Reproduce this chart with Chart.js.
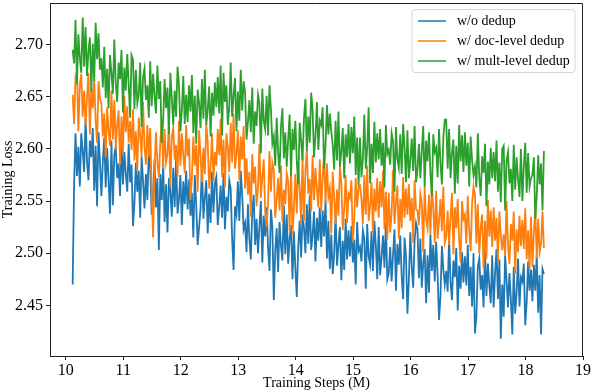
<!DOCTYPE html>
<html>
<head>
<meta charset="utf-8">
<script src="https://cdn.jsdelivr.net/npm/chart.js@4.4.0/dist/chart.umd.min.js"></script>
<style>
  html, body { margin: 0; padding: 0; background: #fff; }
  #wrap { width: 592px; height: 392px; }
</style>
</head>
<body>
<div id="wrap"><canvas id="lossChart" width="592" height="392"></canvas></div>
<script>
// training steps (M)
const steps = [
  10.12, 10.145, 10.17, 10.195, 10.22, 10.245, 10.27, 10.295, 10.32, 10.345, 10.37, 10.395, 10.42, 10.445, 10.47, 10.495, 10.52, 10.545, 10.57, 10.595,
  10.62, 10.645, 10.67, 10.695, 10.72, 10.745, 10.77, 10.795, 10.82, 10.845, 10.87, 10.895, 10.92, 10.945, 10.97, 10.995, 11.02, 11.045, 11.07, 11.095,
  11.12, 11.145, 11.17, 11.195, 11.22, 11.245, 11.27, 11.295, 11.32, 11.345, 11.37, 11.395, 11.42, 11.445, 11.47, 11.495, 11.52, 11.545, 11.57, 11.595,
  11.62, 11.645, 11.67, 11.695, 11.72, 11.745, 11.77, 11.795, 11.82, 11.845, 11.87, 11.895, 11.92, 11.945, 11.97, 11.995, 12.02, 12.045, 12.07, 12.095,
  12.12, 12.145, 12.17, 12.195, 12.22, 12.245, 12.27, 12.295, 12.32, 12.345, 12.37, 12.395, 12.42, 12.445, 12.47, 12.495, 12.52, 12.545, 12.57, 12.595,
  12.62, 12.645, 12.67, 12.695, 12.72, 12.745, 12.77, 12.795, 12.82, 12.845, 12.87, 12.895, 12.92, 12.945, 12.97, 12.995, 13.02, 13.045, 13.07, 13.095,
  13.12, 13.145, 13.17, 13.195, 13.22, 13.245, 13.27, 13.295, 13.32, 13.345, 13.37, 13.395, 13.42, 13.445, 13.47, 13.495, 13.52, 13.545, 13.57, 13.595,
  13.62, 13.645, 13.67, 13.695, 13.72, 13.745, 13.77, 13.795, 13.82, 13.845, 13.87, 13.895, 13.92, 13.945, 13.97, 13.995, 14.02, 14.045, 14.07, 14.095,
  14.12, 14.145, 14.17, 14.195, 14.22, 14.245, 14.27, 14.295, 14.32, 14.345, 14.37, 14.395, 14.42, 14.445, 14.47, 14.495, 14.52, 14.545, 14.57, 14.595,
  14.62, 14.645, 14.67, 14.695, 14.72, 14.745, 14.77, 14.795, 14.82, 14.845, 14.87, 14.895, 14.92, 14.945, 14.97, 14.995, 15.02, 15.045, 15.07, 15.095,
  15.12, 15.145, 15.17, 15.195, 15.22, 15.245, 15.27, 15.295, 15.32, 15.345, 15.37, 15.395, 15.42, 15.445, 15.47, 15.495, 15.52, 15.545, 15.57, 15.595,
  15.62, 15.645, 15.67, 15.695, 15.72, 15.745, 15.77, 15.795, 15.82, 15.845, 15.87, 15.895, 15.92, 15.945, 15.97, 15.995, 16.02, 16.045, 16.07, 16.095,
  16.12, 16.145, 16.17, 16.195, 16.22, 16.245, 16.27, 16.295, 16.32, 16.345, 16.37, 16.395, 16.42, 16.445, 16.47, 16.495, 16.52, 16.545, 16.57, 16.595,
  16.62, 16.645, 16.67, 16.695, 16.72, 16.745, 16.77, 16.795, 16.82, 16.845, 16.87, 16.895, 16.92, 16.945, 16.97, 16.995, 17.02, 17.045, 17.07, 17.095,
  17.12, 17.145, 17.17, 17.195, 17.22, 17.245, 17.27, 17.295, 17.32, 17.345, 17.37, 17.395, 17.42, 17.445, 17.47, 17.495, 17.52, 17.545, 17.57, 17.595,
  17.62, 17.645, 17.67, 17.695, 17.72, 17.745, 17.77, 17.795, 17.82, 17.845, 17.87, 17.895, 17.92, 17.945, 17.97, 17.995, 18.02, 18.045, 18.07, 18.095,
  18.12, 18.145, 18.17, 18.195, 18.22, 18.245, 18.27, 18.295, 18.32
];

// w/o dedup
const noDedup = [
  2.470, 2.565, 2.615, 2.574, 2.602, 2.564, 2.615, 2.598, 2.578, 2.630, 2.588, 2.570, 2.608, 2.592, 2.620, 2.560, 2.603, 2.545, 2.616, 2.587,
  2.555, 2.588, 2.611, 2.563, 2.601, 2.569, 2.538, 2.608, 2.546, 2.594, 2.602, 2.572, 2.586, 2.555, 2.609, 2.566, 2.597, 2.576, 2.559, 2.605,
  2.568, 2.585, 2.526, 2.548, 2.587, 2.559, 2.579, 2.534, 2.593, 2.569, 2.543, 2.576, 2.551, 2.599, 2.582, 2.537, 2.557, 2.590, 2.544, 2.572,
  2.503, 2.576, 2.551, 2.586, 2.530, 2.566, 2.520, 2.572, 2.559, 2.535, 2.582, 2.544, 2.591, 2.538, 2.552, 2.575, 2.527, 2.569, 2.547, 2.579,
  2.542, 2.571, 2.536, 2.558, 2.515, 2.575, 2.547, 2.508, 2.525, 2.543, 2.585, 2.533, 2.553, 2.570, 2.519, 2.557, 2.529, 2.578, 2.539, 2.567,
  2.573, 2.527, 2.544, 2.565, 2.534, 2.577, 2.523, 2.554, 2.540, 2.570, 2.562, 2.514, 2.484, 2.545, 2.537, 2.569, 2.531, 2.579, 2.556, 2.523,
  2.529, 2.501, 2.547, 2.514, 2.494, 2.539, 2.556, 2.508, 2.533, 2.500, 2.526, 2.550, 2.491, 2.536, 2.516, 2.544, 2.505, 2.483, 2.542, 2.525,
  2.455, 2.502, 2.524, 2.482, 2.530, 2.507, 2.493, 2.546, 2.499, 2.537, 2.490, 2.514, 2.527, 2.475, 2.521, 2.485, 2.458, 2.506, 2.531, 2.496,
  2.537, 2.524, 2.500, 2.547, 2.509, 2.556, 2.503, 2.517, 2.540, 2.492, 2.534, 2.512, 2.544, 2.506, 2.541, 2.516, 2.551, 2.495, 2.531, 2.485,
  2.518, 2.480, 2.498, 2.540, 2.488, 2.508, 2.525, 2.474, 2.512, 2.484, 2.533, 2.494, 2.522, 2.497, 2.526, 2.491, 2.513, 2.470, 2.530, 2.502,
  2.506, 2.492, 2.522, 2.514, 2.466, 2.528, 2.497, 2.489, 2.521, 2.483, 2.531, 2.508, 2.475, 2.525, 2.479, 2.496, 2.517, 2.486, 2.529, 2.475,
  2.481, 2.506, 2.473, 2.499, 2.523, 2.464, 2.509, 2.489, 2.517, 2.478, 2.456, 2.515, 2.498, 2.442, 2.474, 2.520, 2.487, 2.467, 2.512, 2.529,
  2.523, 2.476, 2.514, 2.467, 2.491, 2.504, 2.452, 2.498, 2.462, 2.518, 2.483, 2.508, 2.473, 2.511, 2.479, 2.436, 2.459, 2.507, 2.484, 2.470,
  2.483, 2.463, 2.515, 2.473, 2.455, 2.493, 2.477, 2.505, 2.445, 2.488, 2.466, 2.501, 2.472, 2.497, 2.469, 2.508, 2.459, 2.487, 2.449, 2.500,
  2.423, 2.439, 2.487, 2.495, 2.465, 2.479, 2.448, 2.502, 2.459, 2.490, 2.469, 2.452, 2.498, 2.448, 2.481, 2.504, 2.456, 2.494, 2.418, 2.470,
  2.439, 2.498, 2.474, 2.448, 2.481, 2.456, 2.422, 2.487, 2.442, 2.462, 2.495, 2.449, 2.477, 2.473, 2.490, 2.431, 2.453, 2.492, 2.464, 2.484,
  2.454, 2.489, 2.464, 2.499, 2.443, 2.479, 2.422, 2.485, 2.480
];

// w/ doc-level dedup
const docDedup = [
  2.652, 2.624, 2.670, 2.674, 2.617, 2.662, 2.672, 2.631, 2.656, 2.623, 2.649, 2.673, 2.614, 2.659, 2.639, 2.667, 2.628, 2.606, 2.665, 2.648,
  2.644, 2.612, 2.634, 2.592, 2.640, 2.617, 2.603, 2.656, 2.609, 2.647, 2.600, 2.624, 2.637, 2.585, 2.631, 2.595, 2.651, 2.616, 2.641, 2.606,
  2.627, 2.599, 2.638, 2.589, 2.617, 2.579, 2.630, 2.613, 2.593, 2.645, 2.603, 2.585, 2.623, 2.592, 2.620, 2.560, 2.515, 2.581, 2.616, 2.587,
  2.573, 2.606, 2.629, 2.581, 2.619, 2.587, 2.595, 2.626, 2.564, 2.612, 2.620, 2.590, 2.604, 2.573, 2.627, 2.584, 2.615, 2.594, 2.577, 2.623,
  2.593, 2.610, 2.551, 2.573, 2.612, 2.584, 2.604, 2.559, 2.618, 2.594, 2.568, 2.601, 2.576, 2.624, 2.607, 2.562, 2.582, 2.615, 2.569, 2.597,
  2.584, 2.619, 2.594, 2.629, 2.573, 2.609, 2.563, 2.615, 2.602, 2.578, 2.625, 2.587, 2.634, 2.581, 2.595, 2.618, 2.570, 2.612, 2.590, 2.622,
  2.562, 2.591, 2.556, 2.578, 2.535, 2.595, 2.567, 2.583, 2.545, 2.563, 2.605, 2.553, 2.573, 2.590, 2.539, 2.525, 2.549, 2.598, 2.559, 2.587,
  2.580, 2.534, 2.551, 2.572, 2.541, 2.584, 2.530, 2.561, 2.547, 2.577, 2.569, 2.521, 2.583, 2.517, 2.544, 2.576, 2.538, 2.586, 2.563, 2.530,
  2.593, 2.531, 2.579, 2.600, 2.557, 2.571, 2.540, 2.594, 2.551, 2.582, 2.561, 2.544, 2.590, 2.540, 2.573, 2.596, 2.548, 2.586, 2.554, 2.562,
  2.519, 2.578, 2.554, 2.528, 2.561, 2.536, 2.584, 2.567, 2.522, 2.542, 2.575, 2.529, 2.557, 2.553, 2.570, 2.511, 2.533, 2.572, 2.544, 2.564,
  2.565, 2.552, 2.528, 2.575, 2.537, 2.584, 2.531, 2.545, 2.568, 2.520, 2.562, 2.540, 2.572, 2.534, 2.569, 2.544, 2.579, 2.523, 2.559, 2.513,
  2.558, 2.520, 2.538, 2.580, 2.528, 2.548, 2.565, 2.514, 2.552, 2.524, 2.573, 2.534, 2.562, 2.537, 2.566, 2.531, 2.553, 2.510, 2.570, 2.542,
  2.541, 2.527, 2.557, 2.549, 2.501, 2.563, 2.532, 2.524, 2.556, 2.518, 2.566, 2.543, 2.510, 2.560, 2.514, 2.531, 2.552, 2.521, 2.564, 2.510,
  2.516, 2.541, 2.508, 2.534, 2.558, 2.499, 2.544, 2.524, 2.552, 2.513, 2.491, 2.550, 2.533, 2.537, 2.509, 2.555, 2.522, 2.502, 2.547, 2.564,
  2.556, 2.509, 2.547, 2.500, 2.524, 2.537, 2.485, 2.531, 2.495, 2.551, 2.516, 2.541, 2.506, 2.544, 2.512, 2.534, 2.492, 2.540, 2.517, 2.503,
  2.518, 2.498, 2.550, 2.508, 2.490, 2.528, 2.512, 2.540, 2.480, 2.523, 2.501, 2.536, 2.507, 2.532, 2.504, 2.543, 2.494, 2.522, 2.484, 2.535,
  2.487, 2.520, 2.543, 2.495, 2.533, 2.501, 2.509, 2.540, 2.505
];

// w/ mult-level dedup
const multDedup = [
  2.695, 2.682, 2.724, 2.662, 2.710, 2.687, 2.673, 2.726, 2.679, 2.717, 2.670, 2.694, 2.707, 2.655, 2.701, 2.665, 2.721, 2.686, 2.711, 2.676,
  2.687, 2.659, 2.698, 2.649, 2.677, 2.639, 2.690, 2.673, 2.653, 2.705, 2.663, 2.645, 2.683, 2.667, 2.695, 2.635, 2.678, 2.656, 2.691, 2.662,
  2.630, 2.690, 2.686, 2.638, 2.676, 2.644, 2.652, 2.683, 2.621, 2.669, 2.677, 2.647, 2.661, 2.630, 2.684, 2.641, 2.672, 2.651, 2.634, 2.680,
  2.648, 2.665, 2.606, 2.628, 2.667, 2.639, 2.659, 2.614, 2.673, 2.649, 2.623, 2.656, 2.631, 2.679, 2.662, 2.617, 2.637, 2.670, 2.624, 2.652,
  2.626, 2.661, 2.636, 2.671, 2.615, 2.651, 2.605, 2.657, 2.644, 2.620, 2.667, 2.629, 2.676, 2.623, 2.637, 2.660, 2.612, 2.654, 2.632, 2.664,
  2.640, 2.669, 2.634, 2.680, 2.613, 2.673, 2.645, 2.661, 2.623, 2.641, 2.683, 2.631, 2.651, 2.668, 2.617, 2.655, 2.627, 2.676, 2.637, 2.665,
  2.655, 2.609, 2.626, 2.647, 2.616, 2.659, 2.605, 2.636, 2.622, 2.652, 2.644, 2.596, 2.658, 2.627, 2.619, 2.651, 2.613, 2.661, 2.638, 2.605,
  2.612, 2.584, 2.630, 2.597, 2.577, 2.622, 2.639, 2.591, 2.616, 2.583, 2.609, 2.633, 2.574, 2.619, 2.599, 2.627, 2.588, 2.566, 2.625, 2.608,
  2.589, 2.630, 2.648, 2.598, 2.631, 2.606, 2.654, 2.637, 2.592, 2.612, 2.645, 2.599, 2.627, 2.623, 2.640, 2.581, 2.603, 2.642, 2.614, 2.634,
  2.617, 2.604, 2.580, 2.627, 2.589, 2.636, 2.583, 2.597, 2.620, 2.572, 2.614, 2.592, 2.624, 2.586, 2.621, 2.596, 2.631, 2.575, 2.611, 2.565,
  2.611, 2.573, 2.591, 2.633, 2.581, 2.601, 2.640, 2.567, 2.605, 2.577, 2.626, 2.587, 2.615, 2.590, 2.619, 2.584, 2.606, 2.563, 2.623, 2.595,
  2.599, 2.585, 2.615, 2.607, 2.559, 2.621, 2.590, 2.582, 2.614, 2.576, 2.624, 2.601, 2.568, 2.618, 2.572, 2.589, 2.610, 2.579, 2.622, 2.568,
  2.580, 2.605, 2.572, 2.598, 2.622, 2.563, 2.608, 2.588, 2.616, 2.577, 2.555, 2.614, 2.597, 2.601, 2.573, 2.619, 2.586, 2.566, 2.611, 2.628,
  2.628, 2.581, 2.619, 2.572, 2.596, 2.609, 2.557, 2.603, 2.567, 2.623, 2.588, 2.613, 2.578, 2.616, 2.584, 2.606, 2.564, 2.612, 2.589, 2.575,
  2.583, 2.563, 2.615, 2.573, 2.555, 2.593, 2.577, 2.605, 2.545, 2.588, 2.566, 2.601, 2.572, 2.597, 2.569, 2.608, 2.559, 2.587, 2.549, 2.600,
  2.603, 2.541, 2.589, 2.597, 2.567, 2.581, 2.550, 2.604, 2.561, 2.592, 2.571, 2.554, 2.600, 2.550, 2.583, 2.606, 2.558, 2.596, 2.564, 2.572,
  2.575, 2.592, 2.533, 2.555, 2.594, 2.566, 2.586, 2.541, 2.598
];

const seriesLabels = ['w/o dedup', 'w/ doc-level dedup', 'w/ mult-level dedup'];
const seriesColors = ['#1f77b4', '#ff7f0e', '#2ca02c'];
const xTicks = [10, 11, 12, 13, 14, 15, 16, 17, 18, 19];
const yTicks = [2.45, 2.50, 2.55, 2.60, 2.65, 2.70];

const FONT = "'Liberation Serif', 'Times New Roman', serif";
const INK = '#222';

const toPoints = arr => arr.map((v, i) => ({ x: steps[i], y: v }));

// top/right spines + matplotlib-style legend box
const framePlugin = {
  id: 'frame',
  afterDraw(chart) {
    const { ctx, chartArea: a } = chart;
    ctx.save();
    ctx.strokeStyle = INK;
    ctx.lineWidth = 1;
    ctx.beginPath();
    ctx.moveTo(a.left, a.top + 0.5);
    ctx.lineTo(a.right - 0.5, a.top + 0.5);
    ctx.lineTo(a.right - 0.5, a.bottom);
    ctx.stroke();

    const bx = 412, by = 9.5, bw = 163, bh = 63;
    ctx.fillStyle = 'rgba(255,255,255,0.8)';
    ctx.strokeStyle = '#d6d6d6';
    ctx.beginPath();
    ctx.roundRect(bx, by, bw, bh, 3);
    ctx.fill();
    ctx.stroke();
    ctx.font = '14px ' + FONT;
    ctx.textBaseline = 'middle';
    ctx.fillStyle = '#000';
    chart.data.datasets.forEach((ds, i) => {
      const y = 21 + i * 20;
      ctx.strokeStyle = ds.borderColor;
      ctx.lineWidth = 1.5;
      ctx.beginPath();
      ctx.moveTo(418, y);
      ctx.lineTo(446, y);
      ctx.stroke();
      ctx.fillText(ds.label, 457, y);
    });
    ctx.restore();
  }
};

new Chart(document.getElementById('lossChart'), {
  type: 'line',
  data: {
    datasets: [noDedup, docDedup, multDedup].map((vals, i) => ({
      label: seriesLabels[i],
      data: toPoints(vals),
      borderColor: seriesColors[i],
      borderWidth: 1.8,
      pointRadius: 0,
      tension: 0,
      order: 3 - i
    }))
  },
  options: {
    responsive: false,
    animation: false,
    layout: { padding: { top: 3, right: 9, left: 0, bottom: 0 } },
    plugins: { legend: { display: false }, tooltip: { enabled: false } },
    scales: {
      x: {
        type: 'linear',
        min: 9.726,
        max: 19,
        afterBuildTicks: s => { s.ticks = xTicks.map(v => ({ value: v })); },
        afterFit: s => { s.height = 36; s.paddingLeft = 0; s.paddingRight = 0; },
        grid: { drawOnChartArea: false, drawTicks: true, tickLength: 4, color: INK },
        border: { display: true, color: INK },
        ticks: { font: { family: FONT, size: 16 }, color: '#000', padding: 1, maxRotation: 0,
                 callback: v => String(v) },
        title: { display: true, text: 'Training Steps (M)', font: { family: FONT, size: 14 },
                 color: '#000', padding: { top: 0, bottom: 0 } }
      },
      y: {
        min: 2.4014,
        max: 2.740,
        afterBuildTicks: s => { s.ticks = yTicks.map(v => ({ value: v })); },
        afterFit: s => { s.width = 50; s.paddingTop = 0; s.paddingBottom = 0; },
        grid: { drawOnChartArea: false, drawTicks: true, tickLength: 4, color: INK },
        border: { display: true, color: INK },
        ticks: { font: { family: FONT, size: 16 }, color: '#000', padding: 3,
                 callback: v => v.toFixed(2) },
        title: { display: true, text: 'Training Loss', font: { family: FONT, size: 14 },
                 color: '#000', padding: { top: 0, bottom: 0 } }
      }
    }
  },
  plugins: [framePlugin]
});
</script>
</body>
</html>
